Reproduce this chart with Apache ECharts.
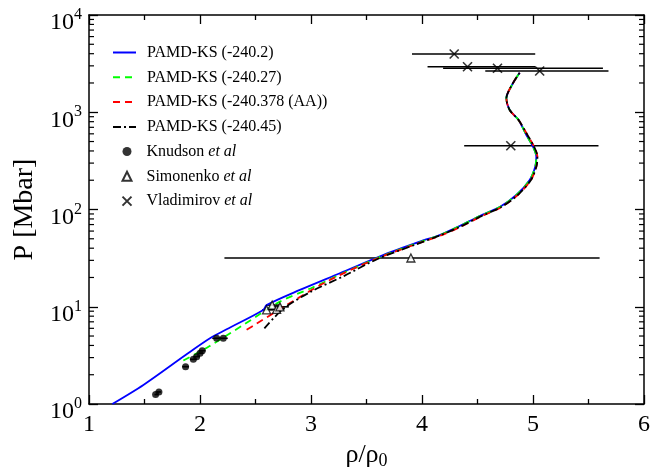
<!DOCTYPE html>
<html>
<head>
<meta charset="utf-8">
<script src="https://cdn.jsdelivr.net/npm/echarts@6/dist/echarts.min.js"></script>
<style>html,body{margin:0;padding:0;background:#fff}#c{width:669px;height:474px}</style>
</head>
<body>
<div id="c"></div>
<script>
// ---- data ----
const xTicks = [1, 2, 3, 4, 5, 6];
const yTicks = [1, 10, 100, 1000, 10000];
const yMinorTicks = [2,3,4,5,6,7,8,9,20,30,40,50,60,70,80,90,200,300,400,500,600,700,800,900,2000,3000,4000,5000,6000,7000,8000,9000];

const seriesNames = ['PAMD-KS (-240.2)', 'PAMD-KS (-240.27)', 'PAMD-KS (-240.378 (AA))', 'PAMD-KS (-240.45)', 'Knudson et al', 'Simonenko et al', 'Vladimirov et al'];

const blue = [[1.21,1.0],[1.49,1.57],[1.87,3.19],[2.09,4.74],[2.24,5.86],[2.57,9.26],[2.60,10.4],[2.90,14.9],[3.26,22.1],[3.65,34.0],[3.98,46.7],[4.16,54.7],[4.34,67.7],[4.52,85.8],[4.70,106],[4.85,141],[4.97,201],[5.02,275],[5.03,349],[5.00,443],[4.94,584],[4.87,832],[4.79,1055],[4.76,1391],[4.81,1905],[4.88,2553]];
const green = [[1.85,2.8],[2.08,3.9],[2.39,6.5],[2.72,11.3],[3.00,15.5],[3.30,22.5],[3.65,33.5],[3.98,46.0],[4.16,54.5],[4.34,67.5],[4.52,85.5],[4.70,106],[4.85,141],[4.97,201],[5.02,275],[5.03,349],[5.00,443],[4.94,584],[4.87,832],[4.79,1055],[4.76,1391],[4.81,1905],[4.88,2553]];
const red = [[2.42,5.8],[2.50,6.6],[2.78,10.4],[3.14,18.1],[3.56,30.2],[3.92,43.0],[4.16,53.5],[4.35,66.5],[4.53,84.5],[4.71,105],[4.86,140],[4.98,200],[5.03,275],[5.04,349],[5.01,443],[4.95,584],[4.87,832],[4.79,1055],[4.76,1391],[4.81,1905],[4.88,2553]];
const black = [[2.58,6.0],[2.75,9.5],[3.00,14.3],[3.30,20.8],[3.60,31.0],[3.95,44.0],[4.16,54.0],[4.35,67.0],[4.53,85.0],[4.71,105.5],[4.86,140],[4.98,200],[5.03,275],[5.04,349],[5.01,443],[4.95,584],[4.87,832],[4.79,1055],[4.76,1391],[4.81,1905],[4.88,2553]];

// experiments: [x, y, xlo, xhi]
const knudson = [[1.60,1.25,1.59,1.62],[1.63,1.33,1.61,1.65],[1.87,2.42,1.84,1.90],[1.94,2.88,1.91,1.97],[1.97,3.07,1.94,2.00],[2.00,3.32,1.97,2.03],[2.02,3.53,1.99,2.05],[2.15,4.74,2.11,2.19],[2.21,4.74,2.17,2.25]];
const simonenko = [[2.60,9.3,2.56,2.66],[2.65,10.4,2.60,2.72],[2.69,9.4,2.62,2.76],[2.72,9.98,2.66,2.80],[3.90,31.7,2.22,5.60]];
const vladimirov = [[4.29,3972,3.91,5.02],[4.41,2939,4.05,5.02],[4.68,2832,4.19,5.63],[5.06,2655,4.57,5.68],[4.80,453,4.38,5.59]];

// ---- chart ----
const FONT = 'Liberation Serif';
const chart = echarts.init(document.getElementById('c'), null, {renderer: 'canvas'});

function errBar(name, data) {
  return {
    name: name, type: 'custom', data: data, silent: true, z: 3,
    encode: {x: [0, 2, 3], y: 1},
    renderItem: function (params, api) {
      const y = api.value(1);
      const p1 = api.coord([api.value(2), y]);
      const p2 = api.coord([api.value(3), y]);
      return {type: 'line', shape: {x1: p1[0], y1: p1[1], x2: p2[0], y2: p2[1]},
        style: {stroke: '#000', lineWidth: 1.6}};
    }
  };
}

// minor log ticks on left and right frame edges
const minorTickSeries = {
  name: 'yminor', type: 'custom', silent: true, z: 6, clip: false,
  data: yMinorTicks.map(v => [1, v]),
  encode: {x: 0, y: 1},
  renderItem: function (params, api) {
    const v = api.value(1);
    const l = api.coord([xTicks[0], v]);
    const r = api.coord([xTicks[xTicks.length - 1], v]);
    return {type: 'group', children: [
      {type: 'line', shape: {x1: l[0], y1: l[1], x2: l[0] + 5, y2: l[1]}, style: {stroke: '#000', lineWidth: 1.2}},
      {type: 'line', shape: {x1: r[0], y1: r[1], x2: r[0] - 5, y2: r[1]}, style: {stroke: '#000', lineWidth: 1.2}}
    ]};
  }
};

const lineCommon = {type: 'line', showSymbol: false, symbol: 'none', smooth: 0.3, z: 4};
const noIcon = {opacity: 0};
const legendText = {fontFamily: FONT, fontSize: 16, color: '#000', lineHeight: 19,
  rich: {i: {fontFamily: FONT, fontSize: 16, fontStyle: 'italic', color: '#000', lineHeight: 19}}};
const legendFmt = function (n) { return n.replace(' et al', ' {i|et al}'); };

const option = {
  animation: false,
  backgroundColor: '#fff',
  grid: {left: 89, right: 25, top: 15, bottom: 70, containLabel: false, outerBoundsMode: 'none'},
  legend: [
    {
      data: [
        {name: seriesNames[0], itemStyle: noIcon},
        {name: seriesNames[1], itemStyle: noIcon},
        {name: seriesNames[2], itemStyle: noIcon},
        {name: seriesNames[3], itemStyle: noIcon}
      ],
      orient: 'vertical', left: 112, top: 43, padding: 0, itemWidth: 23, itemHeight: 12, itemGap: 5.8,
      textStyle: Object.assign({padding: [0, 0, 0, 6]}, legendText), formatter: legendFmt
    },
    {
      data: [seriesNames[4], seriesNames[5], seriesNames[6]],
      orient: 'vertical', left: 120, top: 142, padding: 0, itemWidth: 9, itemHeight: 9, itemGap: 5.8,
      textStyle: Object.assign({padding: [0, 0, 0, 10]}, legendText), formatter: legendFmt
    }
  ],
  xAxis: [
    {type: 'value', min: 1, max: 6, interval: 1, position: 'bottom',
      axisLine: {onZero: false, lineStyle: {color: '#000', width: 1.5}},
      axisTick: {inside: true, length: 9, lineStyle: {color: '#000', width: 1.3}},
      minorTick: {show: true, splitNumber: 2, length: 5, lineStyle: {color: '#000', width: 1.3}},
      splitLine: {show: false},
      axisLabel: {fontFamily: FONT, fontSize: 24, color: '#000', margin: 9},
      name: '{a|ρ/ρ}{s|0}', nameLocation: 'middle', nameGap: 38,
      nameTextStyle: {rich: {a: {fontFamily: FONT, fontSize: 26, color: '#000', lineHeight: 28, verticalAlign: 'top'},
        s: {fontFamily: FONT, fontSize: 18, color: '#000', verticalAlign: 'bottom', lineHeight: 28}}}},
    {type: 'value', min: 1, max: 6, interval: 1, position: 'top',
      axisLine: {onZero: false, lineStyle: {color: '#000', width: 1.5}},
      axisTick: {inside: true, length: 9, lineStyle: {color: '#000', width: 1.3}},
      minorTick: {show: true, splitNumber: 2, length: 5, lineStyle: {color: '#000', width: 1.3}},
      splitLine: {show: false}, axisLabel: {show: false}}
  ],
  yAxis: [
    {type: 'log', logBase: 10, min: 1, max: 10000, position: 'left',
      axisLine: {onZero: false, lineStyle: {color: '#000', width: 1.5}},
      axisTick: {inside: true, length: 9, lineStyle: {color: '#000', width: 1.3}},
      splitLine: {show: false},
      axisLabel: {margin: 7, padding: [12, 0, 0, 0],
        formatter: function (v) { return '{b|10}{s|' + Math.round(Math.log10(v)) + '}'; },
        rich: {b: {fontFamily: FONT, fontSize: 24, color: '#000', lineHeight: 28, verticalAlign: 'bottom'},
               s: {fontFamily: FONT, fontSize: 16, color: '#000', lineHeight: 28, verticalAlign: 'top'}}},
      name: 'P [Mbar]', nameLocation: 'middle', nameGap: 44, nameRotate: 90,
      nameTextStyle: {fontFamily: FONT, fontSize: 28, color: '#000'}},
    {type: 'log', logBase: 10, min: 1, max: 10000, position: 'right',
      axisLine: {onZero: false, lineStyle: {color: '#000', width: 1.5}},
      axisTick: {inside: true, length: 9, lineStyle: {color: '#000', width: 1.3}},
      splitLine: {show: false}, axisLabel: {show: false}}
  ],
  series: [
    Object.assign({}, lineCommon, {name: seriesNames[0], data: blue, color: '#0000ff', lineStyle: {color: '#0000ff', width: 1.8, type: 'solid'}}),
    Object.assign({}, lineCommon, {name: seriesNames[1], data: green, color: '#00ff00', lineStyle: {color: '#00ff00', width: 1.8, type: [7, 5]}}),
    Object.assign({}, lineCommon, {name: seriesNames[2], data: red, color: '#ff0000', lineStyle: {color: '#ff0000', width: 1.8, type: [7, 5]}}),
    Object.assign({}, lineCommon, {name: seriesNames[3], data: black, color: '#000', lineStyle: {color: '#000', width: 1.8, type: [8, 3, 2, 3]}}),
    errBar('kerr', knudson),
    errBar('serr', simonenko),
    errBar('verr', vladimirov),
    minorTickSeries,
    {name: seriesNames[4], type: 'scatter', data: knudson.map(d => [d[0], d[1]]), symbol: 'circle', symbolSize: 7,
      itemStyle: {color: '#000'}, z: 5},
    {name: seriesNames[5], type: 'scatter', data: simonenko.map(d => [d[0], d[1]]), symbol: 'triangle', symbolSize: 8,
      itemStyle: {color: '#fff', borderColor: '#000', borderWidth: 1.3}, z: 5},
    {name: seriesNames[6], type: 'scatter', data: vladimirov.map(d => [d[0], d[1]]), symbol: 'path://M0,0L10,10M10,0L0,10', symbolSize: 9,
      itemStyle: {color: 'none', borderColor: '#000', borderWidth: 1.6}, z: 5}
  ]
};
chart.setOption(option);
</script>
</body>
</html>
